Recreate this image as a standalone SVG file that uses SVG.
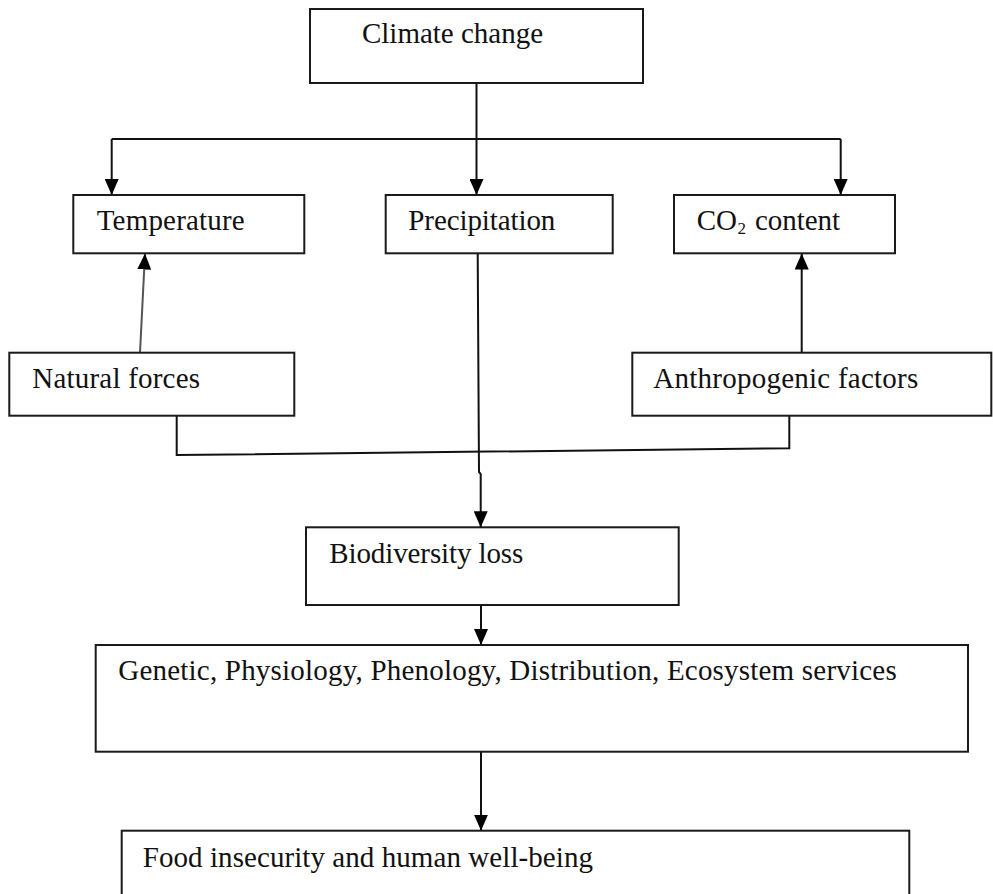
<svg xmlns="http://www.w3.org/2000/svg" width="993" height="894" viewBox="0 0 993 894">
<style>
.box{fill:#fff;stroke:#1a1a1a;stroke-width:2}
.lbl{font-family:"Liberation Serif","Times New Roman",serif;font-size:29px;fill:#111}
.sub{font-size:17px}
.con{fill:none;stroke:#111;stroke-width:2}
.gray{stroke:#555}
</style>
<defs>
<marker id="ah" markerUnits="userSpaceOnUse" markerWidth="16" markerHeight="14" refX="16" refY="7" orient="auto">
<path d="M0,0 L16,7 L0,14 z" fill="#000"/>
</marker>
</defs>
<rect width="993" height="894" fill="#fff"/>
<g id="connectors">
<path class="con" d="M476.5,83 V139"/>
<path class="con" d="M111.7,139 H840.7"/>
<path class="con" d="M111.7,139 V195" marker-end="url(#ah)"/>
<path class="con" d="M476.5,139 V195" marker-end="url(#ah)"/>
<path class="con" d="M840.7,139 V195" marker-end="url(#ah)"/>
<path class="con gray" d="M140,352.7 L145,253.5" marker-end="url(#ah)"/>
<path class="con" d="M801.7,352.7 V253.5" marker-end="url(#ah)"/>
<path class="con" d="M176.7,415.7 V455 L789.3,448.3 V415.7"/>
<path class="con" d="M477.7,253.5 L479,472 L480.7,474 V527.3" marker-end="url(#ah)"/>
<path class="con" d="M481,605 V645" marker-end="url(#ah)"/>
<path class="con" d="M481,751.7 V830.7" marker-end="url(#ah)"/>
</g>
<g id="climate">
<rect class="box" x="310" y="9" width="333" height="74"/>
<text class="lbl" x="362" y="43" textLength="181">Climate change</text>
</g>
<g id="temperature">
<rect class="box" x="73.3" y="195" width="231" height="58.3"/>
<text class="lbl" x="96.7" y="230" textLength="148">Temperature</text>
</g>
<g id="precipitation">
<rect class="box" x="385.7" y="195" width="227" height="58.3"/>
<text class="lbl" x="408.3" y="230" textLength="147">Precipitation</text>
</g>
<g id="co2">
<rect class="box" x="674" y="195" width="221" height="58.3"/>
<text class="lbl" x="696.7" y="230">CO<tspan class="sub" x="737.5" y="234">2</tspan><tspan x="755" y="230" textLength="85">content</tspan></text>
</g>
<g id="natural">
<rect class="box" x="9.3" y="352.7" width="285" height="63"/>
<text class="lbl" x="32.3" y="388" textLength="167.7">Natural forces</text>
</g>
<g id="anthropogenic">
<rect class="box" x="632.3" y="352.7" width="359" height="63"/>
<text class="lbl" x="653.3" y="388" textLength="265">Anthropogenic factors</text>
</g>
<g id="biodiversity">
<rect class="box" x="306" y="527.3" width="372.7" height="77.7"/>
<text class="lbl" x="329.3" y="562.7" textLength="194">Biodiversity loss</text>
</g>
<g id="genetic">
<rect class="box" x="95.7" y="645" width="872.3" height="106.7"/>
<text class="lbl" x="118.3" y="680" textLength="778.4">Genetic, Physiology, Phenology, Distribution, Ecosystem services</text>
</g>
<g id="food">
<rect class="box" x="121.7" y="830.7" width="787.6" height="80"/>
<text class="lbl" x="142.7" y="866.7" textLength="450.3">Food insecurity and human well-being</text>
</g>
</svg>
